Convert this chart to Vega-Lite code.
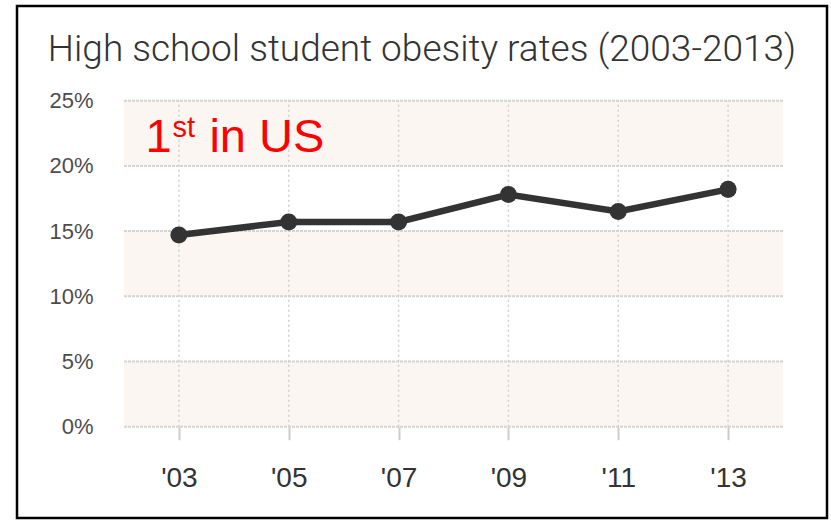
{
  "$schema": "https://vega.github.io/schema/vega-lite/v6.json",
  "autosize": "none",
  "padding": {"left": 17, "top": 6, "right": 4, "bottom": 2},
  "width": 810,
  "height": 512,
  "background": "#ffffff",
  "title": {
    "text": "High school student obesity rates (2003-2013)",
    "anchor": "middle",
    "frame": "group",
    "offset": -63,
    "font": "Roboto",
    "fontWeight": 300,
    "fontSize": 37,
    "color": "#333333"
  },
  "config": {
    "view": {"stroke": "#000000", "strokeWidth": 2.5},
    "font": "Liberation Sans"
  },
  "datasets": {
    "rates": [
      {"year": 2003, "rate": 14.7},
      {"year": 2005, "rate": 15.7},
      {"year": 2007, "rate": 15.7},
      {"year": 2009, "rate": 17.8},
      {"year": 2011, "rate": 16.5},
      {"year": 2013, "rate": 18.2}
    ],
    "bands": [
      {"lo": 0, "hi": 5},
      {"lo": 10, "hi": 15},
      {"lo": 20, "hi": 25}
    ],
    "hgrid": [
      {"v": 0}, {"v": 5}, {"v": 10}, {"v": 15}, {"v": 20}, {"v": 25}
    ],
    "vgrid": [
      {"yr": 2003}, {"yr": 2005}, {"yr": 2007}, {"yr": 2009}, {"yr": 2011}, {"yr": 2013}
    ],
    "note": [
      {"x": 2002.39, "y": 21.1, "main": "1", "sup": "st", "rest": "in US"}
    ]
  },
  "resolve": {"scale": {"x": "shared", "y": "shared"}},
  "layer": [
    {
      "data": {"name": "bands"},
      "mark": {"type": "rect", "color": "#fbf6f2"},
      "encoding": {
        "x": {
          "datum": 2002, "type": "quantitative",
          "scale": {"domain": [2002, 2014], "range": [107, 766], "nice": false, "zero": false},
          "axis": {
            "orient": "bottom", "offset": -91.3, "values": [2003, 2005, 2007, 2009, 2011, 2013],
            "labelExpr": "\"'\" + substring(toString(datum.value), 2)",
            "domain": false, "grid": false, "ticks": true, "tickSize": 13, "tickColor": "#cccccc", "tickWidth": 2,
            "labelFontSize": 28, "labelColor": "#333333", "labelPadding": 25, "title": null
          }
        },
        "x2": {"datum": 2014},
        "y": {
          "field": "lo", "type": "quantitative",
          "scale": {"domain": [0, 25], "range": [420.7, 94.7], "nice": false},
          "axis": {
            "orient": "left", "offset": -76, "values": [0, 5, 10, 15, 20, 25],
            "labelExpr": "datum.value + '%'",
            "domain": false, "grid": false, "ticks": false, "tickSize": 0,
            "labelFontSize": 22, "labelColor": "#4d4d4d", "labelPadding": 0, "title": null
          }
        },
        "y2": {"field": "hi"}
      }
    },
    {
      "data": {"name": "hgrid"},
      "mark": {"type": "rule", "color": "#d4d4d4", "strokeWidth": 2, "strokeDash": [3, 1]},
      "encoding": {
        "x": {"datum": 2002, "type": "quantitative"},
        "x2": {"datum": 2014},
        "y": {"field": "v", "type": "quantitative"}
      }
    },
    {
      "data": {"name": "vgrid"},
      "mark": {"type": "rule", "color": "#d0d0d0", "strokeWidth": 1.5, "strokeDash": [2, 3]},
      "encoding": {
        "x": {"field": "yr", "type": "quantitative"},
        "y": {"datum": 0, "type": "quantitative"},
        "y2": {"datum": 25}
      }
    },
    {
      "data": {"name": "rates"},
      "mark": {"type": "line", "color": "#333333", "strokeWidth": 6.5},
      "encoding": {
        "x": {"field": "year", "type": "quantitative"},
        "y": {"field": "rate", "type": "quantitative"}
      }
    },
    {
      "data": {"name": "rates"},
      "mark": {"type": "point", "filled": true, "opacity": 1, "color": "#333333", "size": 290},
      "encoding": {
        "x": {"field": "year", "type": "quantitative"},
        "y": {"field": "rate", "type": "quantitative"}
      }
    },
    {
      "data": {"name": "note"},
      "mark": {"type": "text", "align": "left", "baseline": "alphabetic", "fontSize": 47, "color": "#ff0000", "font": "Liberation Sans"},
      "encoding": {
        "x": {"field": "x", "type": "quantitative"},
        "y": {"field": "y", "type": "quantitative"},
        "text": {"field": "main"}
      }
    },
    {
      "data": {"name": "note"},
      "mark": {"type": "text", "align": "left", "baseline": "alphabetic", "fontSize": 29, "dx": 27, "dy": -15, "color": "#ff0000", "font": "Liberation Sans"},
      "encoding": {
        "x": {"field": "x", "type": "quantitative"},
        "y": {"field": "y", "type": "quantitative"},
        "text": {"field": "sup"}
      }
    },
    {
      "data": {"name": "note"},
      "mark": {"type": "text", "align": "left", "baseline": "alphabetic", "fontSize": 47, "dx": 64, "color": "#ff0000", "font": "Liberation Sans"},
      "encoding": {
        "x": {"field": "x", "type": "quantitative"},
        "y": {"field": "y", "type": "quantitative"},
        "text": {"field": "rest"}
      }
    }
  ]
}
